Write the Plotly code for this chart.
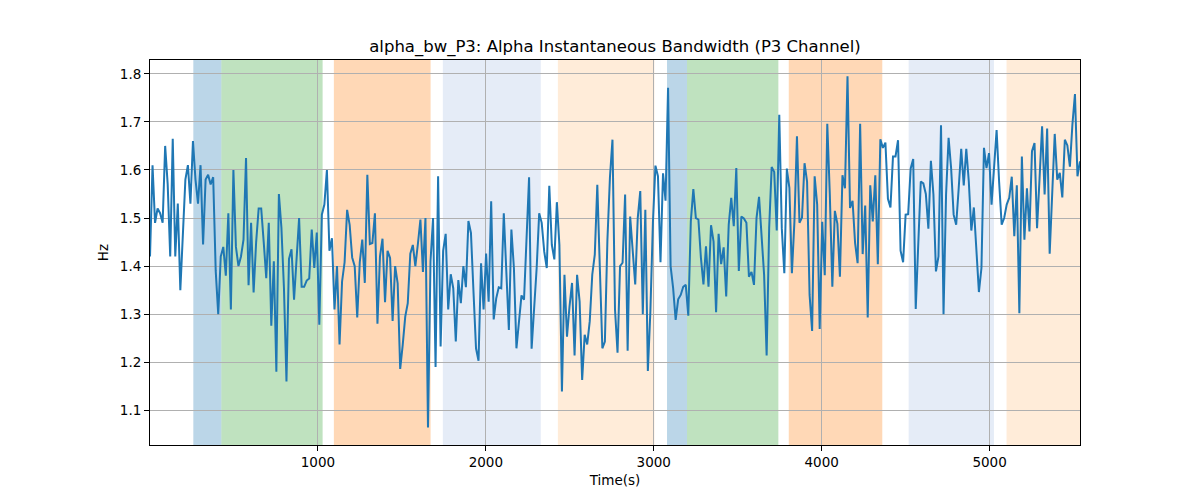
import numpy as np
import plotly.graph_objects as go

# alpha bandwidth, P3 channel (Hz) in 8 chunks
bw_a = [1.42, 1.61, 1.49, 1.52, 1.51, 1.49, 1.65, 1.57, 1.42, 1.665, 1.42, 1.53, 1.35, 1.45, 1.58, 1.61,
        1.53, 1.66, 1.58, 1.53, 1.61, 1.445, 1.58, 1.59, 1.57, 1.585, 1.39, 1.30, 1.42, 1.44, 1.38, 1.51,
        1.31, 1.60, 1.44, 1.40, 1.42, 1.455, 1.625, 1.36, 1.49, 1.345, 1.45, 1.52, 1.52, 1.45]
bw_b = [1.375, 1.49, 1.276, 1.41, 1.18, 1.55, 1.48, 1.355, 1.16, 1.415, 1.435, 1.33, 1.42, 1.50, 1.357,
        1.357, 1.37, 1.374, 1.476, 1.396, 1.47, 1.278, 1.507, 1.528, 1.60, 1.432, 1.458, 1.31, 1.40, 1.237,
        1.368, 1.408, 1.517, 1.486, 1.418, 1.40, 1.293, 1.408, 1.455, 1.365, 1.59, 1.446, 1.448, 1.51, 1.28, 1.42]
bw_c = [1.457, 1.325, 1.432, 1.417, 1.286, 1.40, 1.364, 1.186, 1.236, 1.295, 1.323, 1.426, 1.444, 1.40,
        1.446, 1.497, 1.388, 1.50, 1.064, 1.41, 1.50, 1.19, 1.587, 1.233, 1.432, 1.467, 1.31, 1.383, 1.354,
        1.243, 1.371, 1.323, 1.40, 1.356, 1.494, 1.469, 1.347, 1.229, 1.203, 1.406, 1.31, 1.426, 1.326, 1.535, 1.289]
bw_d = [1.333, 1.356, 1.354, 1.51, 1.389, 1.267, 1.476, 1.396, 1.229, 1.292, 1.339, 1.33, 1.465, 1.585,
        1.228, 1.316, 1.396, 1.51, 1.49, 1.43, 1.396, 1.567, 1.444, 1.414, 1.533, 1.444, 1.139, 1.382, 1.253,
        1.316, 1.365, 1.214, 1.382, 1.326, 1.163, 1.257, 1.237, 1.285, 1.382, 1.424, 1.569, 1.396, 1.229,
        1.243, 1.455, 1.585]
bw_e = [1.663, 1.31, 1.22, 1.40, 1.407, 1.549, 1.224, 1.503, 1.437, 1.362, 1.50, 1.556, 1.30, 1.517, 1.182,
        1.306, 1.49, 1.609, 1.587, 1.408, 1.593, 1.536, 1.771, 1.40, 1.354, 1.288, 1.331, 1.34, 1.357, 1.361,
        1.297, 1.493, 1.56, 1.50, 1.497, 1.417, 1.362, 1.441, 1.357, 1.485, 1.451, 1.304, 1.467, 1.404, 1.439]
bw_f = [1.337, 1.486, 1.542, 1.483, 1.604, 1.39, 1.503, 1.499, 1.49, 1.378, 1.388, 1.361, 1.50, 1.544,
        1.451, 1.382, 1.214, 1.479, 1.606, 1.596, 1.474, 1.715, 1.479, 1.385, 1.603, 1.563, 1.385, 1.493,
        1.67, 1.49, 1.501, 1.614, 1.576, 1.34, 1.265, 1.587, 1.528, 1.269, 1.492, 1.381, 1.696, 1.549, 1.357,
        1.515, 1.488, 1.378]
bw_g = [1.589, 1.562, 1.795, 1.521, 1.536, 1.448, 1.406, 1.696, 1.425, 1.526, 1.293, 1.568, 1.493, 1.589,
        1.404, 1.664, 1.646, 1.657, 1.54, 1.522, 1.628, 1.628, 1.662, 1.432, 1.408, 1.507, 1.508, 1.603,
        1.623, 1.311, 1.446, 1.576, 1.572, 1.55, 1.478, 1.619, 1.549, 1.389, 1.42, 1.693, 1.30, 1.549, 1.667,
        1.604, 1.507]
bw_h = [1.486, 1.562, 1.644, 1.568, 1.644, 1.576, 1.474, 1.522, 1.425, 1.346, 1.396, 1.646, 1.604, 1.635,
        1.528, 1.606, 1.683, 1.575, 1.486, 1.50, 1.528, 1.542, 1.586, 1.462, 1.568, 1.302, 1.628, 1.455,
        1.562, 1.472, 1.639, 1.656, 1.479, 1.583, 1.691, 1.549, 1.686, 1.426, 1.562, 1.675, 1.58, 1.594,
        1.543, 1.663, 1.651, 1.607, 1.695, 1.758, 1.587, 1.618]

alpha_bw = bw_a + bw_b + bw_c + bw_d + bw_e + bw_f + bw_g + bw_h
dt = 15.05  # sample spacing (s)
time_s = np.arange(len(alpha_bw)) * dt

# shaded segments (s)
seg_start = [258, 425, 1095, 1744, 2429, 3079, 3198, 3804, 4518, 5101]
seg_end = [425, 1028, 1671, 2327, 3004, 3198, 3742, 4361, 5026, 5540]
seg_kind = ["blue", "green", "orange", "lblue", "lorange",
            "blue", "green", "orange", "lblue", "lorange"]

fills = {
    "blue": "rgba(31,119,180,0.3)",
    "green": "rgba(44,160,44,0.3)",
    "orange": "rgba(255,127,14,0.3)",
    "lblue": "rgba(70,120,200,0.14)",
    "lorange": "rgba(255,140,30,0.17)",
}

fig = go.Figure()
fig.add_trace(go.Scatter(x=time_s, y=alpha_bw, mode="lines",
                         line=dict(color="#1f77b4", width=2), showlegend=False))

for s, e, k in zip(seg_start, seg_end, seg_kind):
    fig.add_shape(type="rect", xref="x", yref="paper", x0=s, x1=e, y0=0, y1=1,
                  fillcolor=fills[k], line=dict(width=0), layer="below")

font = "DejaVu Sans, sans-serif"
axis_common = dict(showline=True, linecolor="black", linewidth=1, mirror=True,
                   ticks="outside", ticklen=5, tickcolor="black",
                   showgrid=True, gridcolor="#b0b0b0", gridwidth=1, zeroline=False,
                   tickfont=dict(family=font, size=13.5, color="black"))

fig.update_xaxes(range=[0, time_s[-1]], tickvals=[1000, 2000, 3000, 4000, 5000],
                 title=dict(text="Time(s)", font=dict(family=font, size=13.5, color="black"), standoff=6),
                 **axis_common)
fig.update_yaxes(range=[1.0278, 1.8288], tickvals=[1.1, 1.2, 1.3, 1.4, 1.5, 1.6, 1.7, 1.8],
                 ticktext=["1.1", "1.2", "1.3", "1.4", "1.5", "1.6", "1.7", "1.8"],
                 title=dict(text="Hz", font=dict(family=font, size=13.5, color="black"), standoff=8),
                 **axis_common)

# the page adds an 8px body margin, so the margins are shifted by that much
fig.update_layout(
    width=1200, height=500,
    margin=dict(l=142, r=128, t=52, b=63),
    plot_bgcolor="white", paper_bgcolor="white",
    title=dict(text="alpha_bw_P3: Alpha Instantaneous Bandwidth (P3 Channel)",
               x=0.5, xref="paper", y=1 - 38 / 500, yref="container", yanchor="middle",
               font=dict(family=font, size=16.5, color="black")),
)

fig.write_html("out.html")
